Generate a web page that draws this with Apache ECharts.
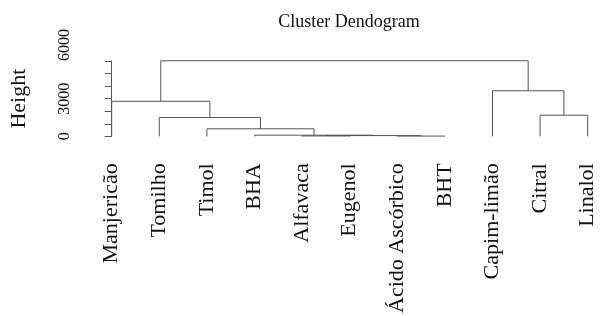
<!DOCTYPE html>
<html>
<head>
<meta charset="utf-8">
<script src="https://cdn.jsdelivr.net/npm/echarts@6/dist/echarts.min.js"></script>
<style>
  html, body { margin: 0; padding: 0; background: #fff; }
  #chart { width: 600px; height: 316px; }
</style>
</head>
<body>
<div id="chart"></div>
<script>
// leaves in display order
const leaves = ['Manjericão', 'Tomilho', 'Timol', 'BHA', 'Alfavaca', 'Eugenol',
  'Ácido Ascórbico', 'BHT', 'Capim-limão', 'Citral', 'Linalol'];

// R-style merge table: negative = leaf (1-based), positive = earlier merge
const mergeLeft   = [-7, -5, 2, -4, -3, -2, -10, -1, -9, 8];
const mergeRight  = [-8, -6, 1,  3,  4,  5, -11,  6,  7, 9];
const mergeHeight = [20, 30, 60, 90, 600, 1500, 1680, 2790, 3630, 6020];

const yTicks = [0, 3000, 6000];

const FONT = '"Liberation Serif","DejaVu Serif",serif';
const LINE = '#555';

// x position / height of a node
function nodePos(ref) {
  if (ref < 0) return -ref - 1;
  const k = ref - 1;
  return (nodePos(mergeLeft[k]) + nodePos(mergeRight[k])) / 2;
}
function nodeHeight(ref) {
  return ref < 0 ? 0 : mergeHeight[ref - 1];
}

const segs = mergeHeight.map((h, k) => [
  nodePos(mergeLeft[k]), nodeHeight(mergeLeft[k]),
  nodePos(mergeRight[k]), nodeHeight(mergeRight[k]), h
]);

const chart = echarts.init(document.getElementById('chart'), null, { renderer: 'canvas' });
chart.setOption({
  backgroundColor: '#fff',
  animation: false,
  title: {
    text: 'Cluster Dendogram',
    left: 349, top: 13, textAlign: 'center', padding: 0,
    textStyle: { fontFamily: FONT, fontSize: 18, fontWeight: 'normal', color: '#111' }
  },
  grid: { left: 110.7, right: 12.3, top: 61, bottom: 179 },
  xAxis: [{
    type: 'category',
    data: leaves,
    boundaryGap: false,
    axisLine: { show: false },
    axisTick: { show: false },
    axisLabel: {
      rotate: 90, interval: 0, margin: 27,
      fontFamily: FONT, fontSize: 22, color: '#111'
    }
  }, {
    type: 'value', min: 0, max: leaves.length - 1, show: false
  }],
  yAxis: {
    type: 'value',
    min: 0, max: 6000, interval: 1000,
    offset: 18.7,
    name: 'Height',
    nameLocation: 'middle',
    nameRotate: 90,
    nameGap: 63,
    nameTextStyle: { fontFamily: FONT, fontSize: 22, color: '#111' },
    axisLine: { show: true, lineStyle: { color: LINE, width: 1 } },
    axisTick: { show: true, length: 7, lineStyle: { color: LINE, width: 1 } },
    splitLine: { show: false },
    axisLabel: {
      rotate: 90, margin: 20,
      fontFamily: FONT, fontSize: 16, color: '#111',
      formatter: v => yTicks.indexOf(v) < 0 ? '' : (v === 6000 ? '{s|' + v + '}' : String(v)),
      rich: { s: { fontFamily: FONT, fontSize: 16, color: '#111', padding: [0, 0, 0, 32] } }
    }
  },
  series: [{
    type: 'custom',
    xAxisIndex: 1,
    yAxisIndex: 0,
    data: segs,
    renderItem: (params, api) => {
      const a = api.coord([api.value(0), api.value(1)]);
      const b = api.coord([api.value(0), api.value(4)]);
      const c = api.coord([api.value(2), api.value(4)]);
      const d = api.coord([api.value(2), api.value(3)]);
      return {
        type: 'polyline',
        shape: { points: [a, b, c, d] },
        style: { stroke: LINE, lineWidth: 1, fill: null }
      };
    }
  }]
});
</script>
</body>
</html>
